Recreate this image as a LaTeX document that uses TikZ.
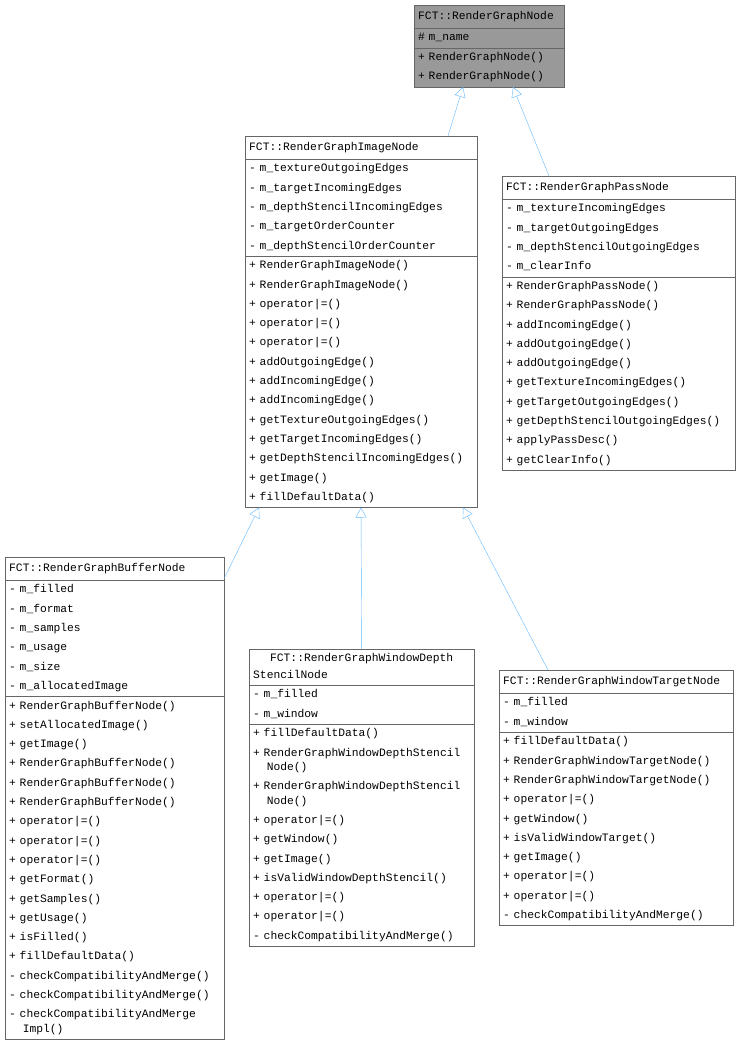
\documentclass[tikz,border=0pt]{standalone}
\usepackage{fontspec}
\setmonofont{Liberation Mono}
\usetikzlibrary{shapes.multipart,arrows.meta}
\definecolor{edgeblue}{HTML}{63B8FF}
\definecolor{boxline}{HTML}{666666}
\newcommand{\umlfont}{\ttfamily\fontsize{11.3}{19.3}\selectfont}
\newcommand{\Ls}{\rule[-6.8pt]{0pt}{19.3pt}}
\newcommand{\Ts}{\rule[-8pt]{0pt}{22.5pt}}
\tikzset{
 umlbox/.style={rectangle split, rectangle split parts=3, draw=boxline, fill=white,
   anchor=north west, inner xsep=4pt, inner ysep=0pt, font=\umlfont, align=left},
 inh/.style={draw=edgeblue, {Triangle[open,fill=white,length=10pt,width=11pt]}-}
}
\begin{document}
\begin{tikzpicture}
\useasboundingbox (0,0) rectangle (741pt,-1045pt);
\node[umlbox, fill=black!40, text width=142pt] (base) at (414pt,-5pt)
 {\centering\Ts FCT::RenderGraphNode
 \nodepart{two}\Ls\# m\_name
 \nodepart{three}\Ls+ RenderGraphNode()\\\Ls+ RenderGraphNode()};
\node[umlbox, text width=224pt] (img) at (245pt,-136pt)
 {\centering\Ts FCT::RenderGraphImageNode
 \nodepart{two}\Ls- m\_textureOutgoingEdges\\\Ls- m\_targetIncomingEdges\\\Ls- m\_depthStencilIncomingEdges\\\Ls- m\_targetOrderCounter\\\Ls- m\_depthStencilOrderCounter
 \nodepart{three}\Ls+ RenderGraphImageNode()\\\Ls+ RenderGraphImageNode()\\\Ls+ operator|=()\\\Ls+ operator|=()\\\Ls+ operator|=()\\\Ls+ addOutgoingEdge()\\\Ls+ addIncomingEdge()\\\Ls+ addIncomingEdge()\\\Ls+ getTextureOutgoingEdges()\\\Ls+ getTargetIncomingEdges()\\\Ls+ getDepthStencilIncomingEdges()\\\Ls+ getImage()\\\Ls+ fillDefaultData()};
\node[umlbox, text width=225pt] (pass) at (502pt,-176pt)
 {\centering\Ts FCT::RenderGraphPassNode
 \nodepart{two}\Ls- m\_textureIncomingEdges\\\Ls- m\_targetOutgoingEdges\\\Ls- m\_depthStencilOutgoingEdges\\\Ls- m\_clearInfo
 \nodepart{three}\Ls+ RenderGraphPassNode()\\\Ls+ RenderGraphPassNode()\\\Ls+ addIncomingEdge()\\\Ls+ addOutgoingEdge()\\\Ls+ addOutgoingEdge()\\\Ls+ getTextureIncomingEdges()\\\Ls+ getTargetOutgoingEdges()\\\Ls+ getDepthStencilOutgoingEdges()\\\Ls+ applyPassDesc()\\\Ls+ getClearInfo()};
\node[umlbox, text width=211pt] (buf) at (5pt,-557pt)
 {\centering\Ts FCT::RenderGraphBufferNode
 \nodepart{two}\Ls- m\_filled\\\Ls- m\_format\\\Ls- m\_samples\\\Ls- m\_usage\\\Ls- m\_size\\\Ls- m\_allocatedImage
 \nodepart{three}\Ls+ RenderGraphBufferNode()\\\Ls+ setAllocatedImage()\\\Ls+ getImage()\\\Ls+ RenderGraphBufferNode()\\\Ls+ RenderGraphBufferNode()\\\Ls+ RenderGraphBufferNode()\\\Ls+ operator|=()\\\Ls+ operator|=()\\\Ls+ operator|=()\\\Ls+ getFormat()\\\Ls+ getSamples()\\\Ls+ getUsage()\\\Ls+ isFilled()\\\Ls+ fillDefaultData()\\\Ls- checkCompatibilityAndMerge()\\\Ls- checkCompatibilityAndMerge()\\\Ls- checkCompatibilityAndMerge\\[-5pt]\Ls\hspace*{1.2em}Impl()};
\node[umlbox, text width=217pt] (depth) at (249pt,-649pt)
 {\centering\Ls FCT::RenderGraphWindowDepth\\[-3pt]\Ls StencilNode
 \nodepart{two}\Ls- m\_filled\\\Ls- m\_window
 \nodepart{three}\Ls+ fillDefaultData()\\\Ls+ RenderGraphWindowDepthStencil\\[-5pt]\Ls\hspace*{1.2em}Node()\\\Ls+ RenderGraphWindowDepthStencil\\[-5pt]\Ls\hspace*{1.2em}Node()\\\Ls+ operator|=()\\\Ls+ getWindow()\\\Ls+ getImage()\\\Ls+ isValidWindowDepthStencil()\\\Ls+ operator|=()\\\Ls+ operator|=()\\\Ls- checkCompatibilityAndMerge()};
\node[umlbox, text width=226pt] (target) at (499pt,-670pt)
 {\centering\Ts FCT::RenderGraphWindowTargetNode
 \nodepart{two}\Ls- m\_filled\\\Ls- m\_window
 \nodepart{three}\Ls+ fillDefaultData()\\\Ls+ RenderGraphWindowTargetNode()\\\Ls+ RenderGraphWindowTargetNode()\\\Ls+ operator|=()\\\Ls+ getWindow()\\\Ls+ isValidWindowTarget()\\\Ls+ getImage()\\\Ls+ operator|=()\\\Ls+ operator|=()\\\Ls- checkCompatibilityAndMerge()};
\draw[inh] ([xshift=49pt]base.south west) -- ([xshift=203pt]img.north west);
\draw[inh] ([xshift=99pt]base.south west) -- ([xshift=47pt]pass.north west);
\draw[inh] ([xshift=14pt]img.south west) -- ([yshift=-21pt]buf.north east);
\draw[inh] ([xshift=116pt]img.south west) -- (depth.north);
\draw[inh] ([xshift=218pt]img.south west) -- ([xshift=49pt]target.north west);
\end{tikzpicture}
\end{document}
